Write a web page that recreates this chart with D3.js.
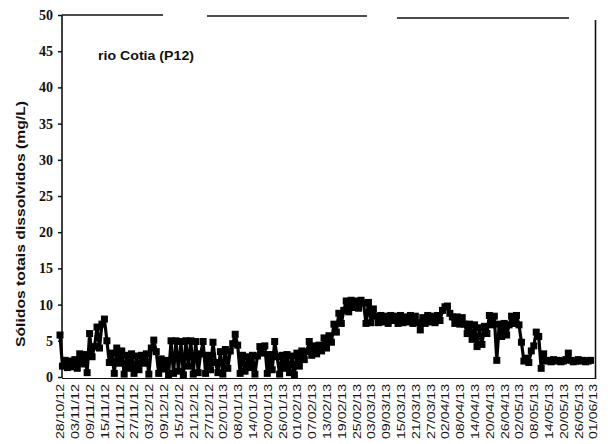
<!DOCTYPE html>
<html>
<head>
<meta charset="utf-8">
<script src="https://cdn.jsdelivr.net/npm/d3@7"></script>
<style>
  html, body { margin: 0; padding: 0; background: #fff; }
  svg { display: block; }
</style>
</head>
<body>
<svg id="chart" width="608" height="444"></svg>
<script>
// Daily total dissolved solids, rio Cotia (P12), starting 28/10/12
const startDate = "28/10/12";
const tdsValues = [
  5.8, 1.5, 2.3, 1.3, 2.2, 1.4, 2.4, 1.2, 3.2, 1.8,
  3.1, 0.6, 6.0, 2.8, 4.2, 6.9, 4.0, 7.3, 8.0, 5.0,
  2.0, 3.3, 0.5, 4.0, 1.9, 3.6, 0.4, 3.0, 1.2, 3.2,
  0.5, 2.9, 1.0, 3.0, 1.9, 3.2, 0.4, 4.0, 5.1, 3.5,
  0.5, 2.5, 1.1, 2.3, 0.3, 5.0, 0.5, 5.0, 0.8, 4.9,
  0.3, 5.0, 1.5, 5.0, 0.4, 4.9, 0.6, 3.2, 4.9, 0.5,
  3.0, 1.0, 4.8, 2.0, 0.6, 3.5, 0.4, 3.8, 1.2, 3.6,
  4.6, 5.9, 4.4, 0.5, 3.0, 0.8, 2.8, 1.3, 3.0, 0.4,
  2.9, 4.2, 3.3, 4.3, 0.5, 3.1, 1.0, 4.9, 2.8, 0.4,
  3.0, 1.2, 3.1, 0.6, 2.9, 0.3, 3.3, 1.5, 3.6, 2.4,
  3.5, 4.9, 3.0, 4.3, 3.2, 4.4, 3.6, 5.4, 4.0, 5.7,
  4.8, 7.3, 6.2, 8.8, 7.4, 9.2, 10.5, 9.0, 10.6, 9.6,
  10.5, 9.5, 10.6, 10.2, 7.4, 10.3, 7.5, 9.4, 8.4, 7.5,
  8.5, 7.6, 8.4, 7.4, 8.5, 7.8, 8.4, 7.4, 8.5, 7.5,
  8.3, 7.6, 8.5, 7.4, 8.4, 7.5, 6.5, 8.2, 7.4, 8.5,
  7.6, 8.4, 7.5, 8.5, 7.8, 9.2, 9.7, 9.8, 8.8, 8.3,
  7.4, 8.3, 7.3, 8.2, 7.3, 6.0, 7.3, 5.2, 7.2, 4.2,
  6.8, 4.5, 7.0, 6.0, 8.5, 7.2, 8.4, 2.3, 7.3, 5.6,
  7.4, 5.8, 7.2, 8.4, 7.4, 8.5, 7.2, 4.8, 2.2, 2.6,
  2.0, 3.6, 4.3, 6.2, 5.6, 1.2, 3.2, 2.2, 2.3, 2.1,
  2.4, 2.2, 2.3, 2.1, 2.2, 2.4, 3.3, 2.3, 2.1, 2.2,
  2.4, 2.2, 2.3, 2.1, 2.2, 2.3
];

const dateTicks = [
  "28/10/12", "03/11/12", "09/11/12", "15/11/12", "21/11/12", "27/11/12",
  "03/12/12", "09/12/12", "15/12/12", "21/12/12", "27/12/12", "02/01/13",
  "08/01/13", "14/01/13", "20/01/13", "26/01/13", "01/02/13", "07/02/13",
  "13/02/13", "19/02/13", "25/02/13", "03/03/13", "09/03/13", "15/03/13",
  "21/03/13", "27/03/13", "02/04/13", "08/04/13", "14/04/13", "20/04/13",
  "26/04/13", "02/05/13", "08/05/13", "14/05/13", "20/05/13", "26/05/13",
  "01/06/13"
];

const valueTicks = [0, 5, 10, 15, 20, 25, 30, 35, 40, 45, 50];
const stationName = "rio Cotia (P12)";
const axisTitle = "Sólidos totais dissolvidos (mg/L)";

const parseDate = d3.utcParse("%d/%m/%y");
const formatDate = d3.utcFormat("%d/%m/%y");
const day0 = parseDate(startDate);
const series = tdsValues.map((v, i) => ({ date: d3.utcDay.offset(day0, i), value: v }));
const tickDates = dateTicks.map(parseDate);

const svg = d3.select("#chart");

const x = d3.scaleUtc()
  .domain([tickDates[0], tickDates[tickDates.length - 1]])
  .range([60, 593]);

const y = d3.scaleLinear()
  .domain([0, 50])
  .range([377, 15]);

// frame: left and bottom axes, broken top border, right border
const frame = svg.append("g").attr("stroke", "#111").attr("stroke-width", 1.6).attr("fill", "none");
frame.append("line").attr("x1", 62).attr("x2", 62).attr("y1", 15).attr("y2", 378);
frame.append("line").attr("x1", 62).attr("x2", 595).attr("y1", 378.5).attr("y2", 378.5).attr("stroke-width", 1.2);
frame.append("line").attr("x1", 62).attr("x2", 163).attr("y1", 15).attr("y2", 15);
frame.append("line").attr("x1", 207).attr("x2", 367).attr("y1", 16).attr("y2", 16);
frame.append("line").attr("x1", 397).attr("x2", 569).attr("y1", 18).attr("y2", 18);
frame.append("line").attr("x1", 595.5).attr("x2", 595.5).attr("y1", 20).attr("y2", 379);

// y axis ticks and labels
const yAxis = svg.append("g")
  .attr("transform", "translate(62,0)")
  .call(d3.axisLeft(y).tickValues(valueTicks).tickSize(4).tickPadding(5));
yAxis.select(".domain").remove();
yAxis.selectAll(".tick line").attr("stroke", "#111").attr("stroke-width", 1.5);
yAxis.selectAll(".tick text")
  .attr("fill", "#111")
  .style("font-family", "'Liberation Serif', serif")
  .style("font-size", "14px")
  .style("font-weight", "bold");

// x axis date labels, rotated
const xAxis = svg.append("g")
  .attr("transform", "translate(0,378)")
  .call(d3.axisBottom(x).tickValues(tickDates).tickFormat(formatDate).tickSize(0));
xAxis.select(".domain").remove();
xAxis.selectAll(".tick text")
  .attr("transform", "rotate(-90)")
  .attr("x", -6)
  .attr("y", 0)
  .attr("dy", "0.36em")
  .attr("fill", "#111")
  .attr("textLength", 55)
  .attr("lengthAdjust", "spacingAndGlyphs")
  .style("text-anchor", "end")
  .style("font-family", "'Liberation Sans', Arial, sans-serif")
  .style("font-size", "11px");

// data line
const line = d3.line()
  .x(d => x(d.date))
  .y(d => y(d.value));

svg.append("path")
  .datum(series)
  .attr("fill", "none")
  .attr("stroke", "#000")
  .attr("stroke-width", 3.2)
  .attr("stroke-linejoin", "round")
  .attr("d", line);

// square markers
const ms = 7;
svg.append("g")
  .selectAll("rect")
  .data(series)
  .join("rect")
  .attr("x", d => x(d.date) - ms / 2)
  .attr("y", d => y(d.value) - ms / 2)
  .attr("width", ms)
  .attr("height", ms)
  .attr("fill", "#000");

// station name
svg.append("text")
  .attr("x", 98)
  .attr("y", 60)
  .attr("textLength", 96)
  .attr("lengthAdjust", "spacingAndGlyphs")
  .attr("fill", "#111")
  .style("font-family", "'Liberation Sans', Arial, sans-serif")
  .style("font-size", "13px")
  .style("font-weight", "bold")
  .text(stationName);

// y axis title
svg.append("text")
  .attr("transform", "translate(25,224) rotate(-90)")
  .attr("text-anchor", "middle")
  .attr("textLength", 246)
  .attr("lengthAdjust", "spacingAndGlyphs")
  .attr("fill", "#111")
  .style("font-family", "'Liberation Sans', Arial, sans-serif")
  .style("font-size", "13px")
  .style("font-weight", "bold")
  .text(axisTitle);
</script>
</body>
</html>
